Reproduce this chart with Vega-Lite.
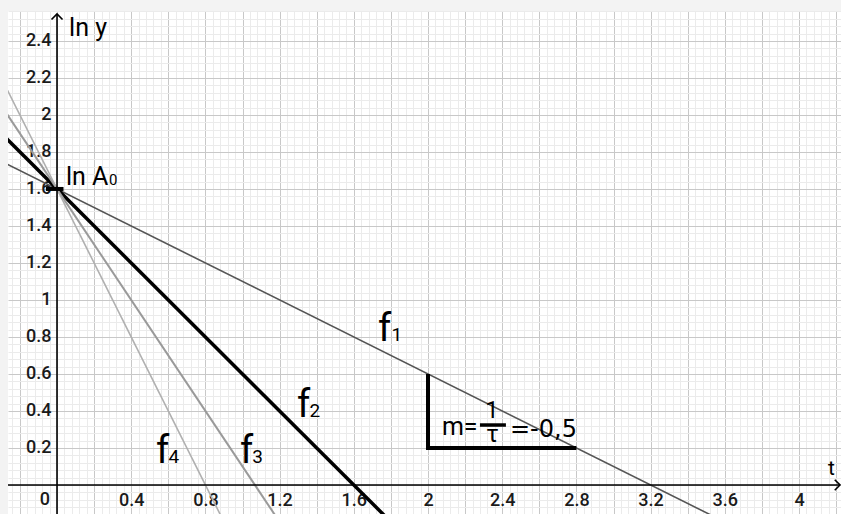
{
  "$schema": "https://vega.github.io/schema/vega-lite/v6.json",
  "width": 833,
  "height": 503,
  "autosize": {"type": "none"},
  "padding": {"left": 8, "top": 11, "right": 0, "bottom": 0},
  "background": "#f3f3f3",
  "config": {
    "view": {"fill": "white", "stroke": null},
    "text": {"font": "Roboto", "color": "black"}
  },
  "layer": [
    {
      "data": {"values": [
        {"f": "f1", "t": -0.3, "v": 1.75}, {"f": "f1", "t": 4.3, "v": -0.55},
        {"f": "f2", "t": -0.3, "v": 1.9}, {"f": "f2", "t": 1.8, "v": -0.2},
        {"f": "f3", "t": -0.3, "v": 2.05}, {"f": "f3", "t": 1.2, "v": -0.2},
        {"f": "f4", "t": -0.3, "v": 2.2}, {"f": "f4", "t": 0.9, "v": -0.2}
      ]},
      "mark": {"type": "line", "clip": true},
      "encoding": {
        "x": {"field": "t", "type": "quantitative",
          "scale": {"domain": [-0.2642, 4.2264], "nice": false, "zero": false},
          "axis": {"orient": "top", "grid": true, "gridColor": "#ebebeb", "gridWidth": 1, "domain": false, "ticks": false, "labels": false, "title": null,
            "values": [-0.24,-0.16,-0.12,-0.08,-0.04,0.04,0.08,0.12,0.16,0.24,0.28,0.32,0.36,0.44,0.48,0.52,0.56,0.64,0.68,0.72,0.76,0.84,0.88,0.92,0.96,1.04,1.08,1.12,1.16,1.24,1.28,1.32,1.36,1.44,1.48,1.52,1.56,1.64,1.68,1.72,1.76,1.84,1.88,1.92,1.96,2.04,2.08,2.12,2.16,2.24,2.28,2.32,2.36,2.44,2.48,2.52,2.56,2.64,2.68,2.72,2.76,2.84,2.88,2.92,2.96,3.04,3.08,3.12,3.16,3.24,3.28,3.32,3.36,3.44,3.48,3.52,3.56,3.64,3.68,3.72,3.76,3.84,3.88,3.92,3.96,4.04,4.08,4.12,4.16]}},
        "y": {"field": "v", "type": "quantitative",
          "scale": {"domain": [-0.157, 2.562], "nice": false, "zero": false},
          "axis": {"orient": "right", "grid": true, "gridColor": "#ebebeb", "gridWidth": 1, "domain": false, "ticks": false, "labels": false, "title": null,
            "values": [-0.12,-0.08,-0.04,0.04,0.08,0.12,0.16,0.24,0.28,0.32,0.36,0.44,0.48,0.52,0.56,0.64,0.68,0.72,0.76,0.84,0.88,0.92,0.96,1.04,1.08,1.12,1.16,1.24,1.28,1.32,1.36,1.44,1.48,1.52,1.56,1.64,1.68,1.72,1.76,1.84,1.88,1.92,1.96,2.04,2.08,2.12,2.16,2.24,2.28,2.32,2.36,2.44,2.48,2.52,2.56]}},
        "color": {"field": "f", "type": "nominal",
          "scale": {"domain": ["f1", "f2", "f3", "f4"], "range": ["#555555", "#000000", "#9a9a9a", "#b0b0b0"]}, "legend": null},
        "strokeWidth": {"condition": [{"test": "datum.f == 'f2'", "value": 3.5}, {"test": "datum.f == 'f3'", "value": 2}], "value": 1.6}
      }
    },
    {
      "data": {"values": [
        {"x": 2, "y": 0.6, "o": 1}, {"x": 2, "y": 0.2, "o": 2}, {"x": 2.8, "y": 0.2, "o": 3}
      ]},
      "mark": {"type": "line", "color": "black", "strokeWidth": 4, "strokeJoin": "miter", "strokeCap": "butt"},
      "encoding": {
        "x": {"field": "x", "type": "quantitative",
          "scale": {"domain": [-0.2642, 4.2264], "nice": false, "zero": false},
          "axis": {"orient": "bottom", "offset": -29, "grid": true, "gridColor": "#c8c8c8", "gridWidth": 1, "domain": false, "ticks": false, "tickSize": 0,
            "labelPadding": 6, "labelFont": "Roboto", "labelFontSize": 18, "labelFontWeight": 500, "labelColor": "#1a1a1a", "labelFlush": false, "labelOverlap": false, "labelBound": false, "title": null,
            "values": [-0.2,0,0.2,0.4,0.6,0.8,1,1.2,1.4,1.6,1.8,2,2.2,2.4,2.6,2.8,3,3.2,3.4,3.6,3.8,4,4.2],
            "labelExpr": "datum.value > 0.1 && round(datum.value * 10) % 4 == 0 ? format(datum.value, '~g') : ''"}},
        "y": {"field": "y", "type": "quantitative",
          "scale": {"domain": [-0.157, 2.562], "nice": false, "zero": false},
          "axis": {"orient": "left", "offset": -49, "grid": true, "gridColor": "#c8c8c8", "gridWidth": 1, "domain": false, "ticks": false, "tickSize": 0,
            "labelPadding": 6, "labelFont": "Roboto", "labelFontSize": 18, "labelFontWeight": 500, "labelColor": "#1a1a1a", "labelFlush": false, "labelOverlap": false, "labelBound": false, "title": null,
            "values": [0,0.2,0.4,0.6,0.8,1,1.2,1.4,1.6,1.8,2,2.2,2.4],
            "labelExpr": "datum.value > 0.1 ? format(datum.value, '~g') : ''"}},
        "order": {"field": "o", "type": "quantitative"}
      }
    },
    {
      "data": {"values": [{}]},
      "mark": {"type": "rule", "color": "black", "strokeWidth": 1.6, "clip": true},
      "encoding": {
        "x": {"datum": -0.3, "scale": {"domain": [-0.2642, 4.2264], "nice": false, "zero": false}, "axis": null},
        "x2": {"datum": 4.221},
        "y": {"datum": 0, "scale": {"domain": [-0.157, 2.562], "nice": false, "zero": false}, "axis": null}
      }
    },
    {
      "data": {"values": [{}]},
      "mark": {"type": "rule", "color": "black", "strokeWidth": 1.6, "clip": true},
      "encoding": {
        "x": {"datum": 0, "scale": {"domain": [-0.2642, 4.2264], "nice": false, "zero": false}, "axis": null},
        "y": {"datum": -0.3, "scale": {"domain": [-0.157, 2.562], "nice": false, "zero": false}, "axis": null},
        "y2": {"datum": 2.546}
      }
    },
    {
      "data": {"values": [{}]},
      "mark": {"type": "rule", "color": "black", "strokeWidth": 4},
      "encoding": {
        "x": {"datum": -0.06, "scale": {"domain": [-0.2642, 4.2264], "nice": false, "zero": false}, "axis": null},
        "x2": {"datum": 0.035},
        "y": {"datum": 1.6, "scale": {"domain": [-0.157, 2.562], "nice": false, "zero": false}, "axis": null}
      }
    },
    {
      "data": {"values": [{}]},
      "mark": {"type": "rule", "color": "black", "strokeWidth": 3.5},
      "encoding": {
        "x": {"datum": 2.28, "scale": {"domain": [-0.2642, 4.2264], "nice": false, "zero": false}, "axis": null},
        "x2": {"datum": 2.42},
        "y": {"datum": 0.324, "scale": {"domain": [-0.157, 2.562], "nice": false, "zero": false}, "axis": null}
      }
    },
    {
      "data": {"values": [{}]},
      "mark": {"type": "point", "shape": "M -1 -1 L 0 0 L -1 1", "filled": false, "stroke": "black", "strokeWidth": 1.6, "size": 110, "opacity": 1},
      "encoding": {
        "x": {"datum": 4.221, "scale": {"domain": [-0.2642, 4.2264], "nice": false, "zero": false}, "axis": null},
        "y": {"datum": 0, "scale": {"domain": [-0.157, 2.562], "nice": false, "zero": false}, "axis": null}
      }
    },
    {
      "data": {"values": [{}]},
      "mark": {"type": "point", "shape": "M -1 1 L 0 0 L 1 1", "filled": false, "stroke": "black", "strokeWidth": 1.6, "size": 121, "opacity": 1},
      "encoding": {
        "x": {"datum": 0, "scale": {"domain": [-0.2642, 4.2264], "nice": false, "zero": false}, "axis": null},
        "y": {"datum": 2.546, "scale": {"domain": [-0.157, 2.562], "nice": false, "zero": false}, "axis": null}
      }
    },
    {
      "data": {"values": [
        {"x": 1.73, "y": 0.778, "text": "f"}, {"x": 1.294, "y": 0.368, "text": "f"},
        {"x": 0.987, "y": 0.119, "text": "f"}, {"x": 0.534, "y": 0.119, "text": "f"}
      ]},
      "mark": {"type": "text", "fontSize": 38, "align": "left", "baseline": "alphabetic"},
      "encoding": {
        "x": {"field": "x", "type": "quantitative", "scale": {"domain": [-0.2642, 4.2264], "nice": false, "zero": false}, "axis": null},
        "y": {"field": "y", "type": "quantitative", "scale": {"domain": [-0.157, 2.562], "nice": false, "zero": false}, "axis": null},
        "text": {"field": "text"}
      }
    },
    {
      "data": {"values": [
        {"x": 1.803, "y": 0.778, "text": "1"}, {"x": 1.361, "y": 0.368, "text": "2"},
        {"x": 1.052, "y": 0.119, "text": "3"}, {"x": 0.601, "y": 0.119, "text": "4"}
      ]},
      "mark": {"type": "text", "fontSize": 19, "align": "left", "baseline": "alphabetic"},
      "encoding": {
        "x": {"field": "x", "type": "quantitative", "scale": {"domain": [-0.2642, 4.2264], "nice": false, "zero": false}, "axis": null},
        "y": {"field": "y", "type": "quantitative", "scale": {"domain": [-0.157, 2.562], "nice": false, "zero": false}, "axis": null},
        "text": {"field": "text"}
      }
    },
    {
      "data": {"values": [
        {"x": 0.065, "y": 2.427, "text": "ln y"}, {"x": 0.0485, "y": 1.62, "text": "ln A"},
        {"x": 2.075, "y": 0.27, "text": "m="}
      ]},
      "mark": {"type": "text", "fontSize": 25, "align": "left", "baseline": "alphabetic"},
      "encoding": {
        "x": {"field": "x", "type": "quantitative", "scale": {"domain": [-0.2642, 4.2264], "nice": false, "zero": false}, "axis": null},
        "y": {"field": "y", "type": "quantitative", "scale": {"domain": [-0.157, 2.562], "nice": false, "zero": false}, "axis": null},
        "text": {"field": "text"}
      }
    },
    {
      "data": {"values": [{"x": 0.28, "y": 1.62, "text": "0"}]},
      "mark": {"type": "text", "fontSize": 15, "align": "left", "baseline": "alphabetic"},
      "encoding": {
        "x": {"field": "x", "type": "quantitative", "scale": {"domain": [-0.2642, 4.2264], "nice": false, "zero": false}, "axis": null},
        "y": {"field": "y", "type": "quantitative", "scale": {"domain": [-0.157, 2.562], "nice": false, "zero": false}, "axis": null},
        "text": {"field": "text"}
      }
    },
    {
      "data": {"values": [{"x": 2.345, "y": 0.362, "text": "1"}, {"x": 2.348, "y": 0.232, "text": "τ"}]},
      "mark": {"type": "text", "fontSize": 24, "align": "center", "baseline": "alphabetic"},
      "encoding": {
        "x": {"field": "x", "type": "quantitative", "scale": {"domain": [-0.2642, 4.2264], "nice": false, "zero": false}, "axis": null},
        "y": {"field": "y", "type": "quantitative", "scale": {"domain": [-0.157, 2.562], "nice": false, "zero": false}, "axis": null},
        "text": {"field": "text"}
      }
    },
    {
      "data": {"values": [{"x": 2.442, "y": 0.259, "text": "=-0,5"}]},
      "mark": {"type": "text", "fontSize": 24, "font": "DejaVu Sans", "align": "left", "baseline": "alphabetic"},
      "encoding": {
        "x": {"field": "x", "type": "quantitative", "scale": {"domain": [-0.2642, 4.2264], "nice": false, "zero": false}, "axis": null},
        "y": {"field": "y", "type": "quantitative", "scale": {"domain": [-0.157, 2.562], "nice": false, "zero": false}, "axis": null},
        "text": {"field": "text"}
      }
    },
    {
      "data": {"values": [{"x": 4.156, "y": 0.054, "text": "t"}]},
      "mark": {"type": "text", "fontSize": 21, "align": "left", "baseline": "alphabetic"},
      "encoding": {
        "x": {"field": "x", "type": "quantitative", "scale": {"domain": [-0.2642, 4.2264], "nice": false, "zero": false}, "axis": null},
        "y": {"field": "y", "type": "quantitative", "scale": {"domain": [-0.157, 2.562], "nice": false, "zero": false}, "axis": null},
        "text": {"field": "text"}
      }
    },
    {
      "data": {"values": [{"x": -0.065, "y": -0.081, "text": "0"}]},
      "mark": {"type": "text", "fontSize": 18, "fontWeight": 500, "align": "center", "baseline": "middle", "color": "#1a1a1a"},
      "encoding": {
        "x": {"field": "x", "type": "quantitative", "scale": {"domain": [-0.2642, 4.2264], "nice": false, "zero": false}, "axis": null},
        "y": {"field": "y", "type": "quantitative", "scale": {"domain": [-0.157, 2.562], "nice": false, "zero": false}, "axis": null},
        "text": {"field": "text"}
      }
    }
  ],
  "resolve": {"axis": {"x": "independent", "y": "independent"}}
}
